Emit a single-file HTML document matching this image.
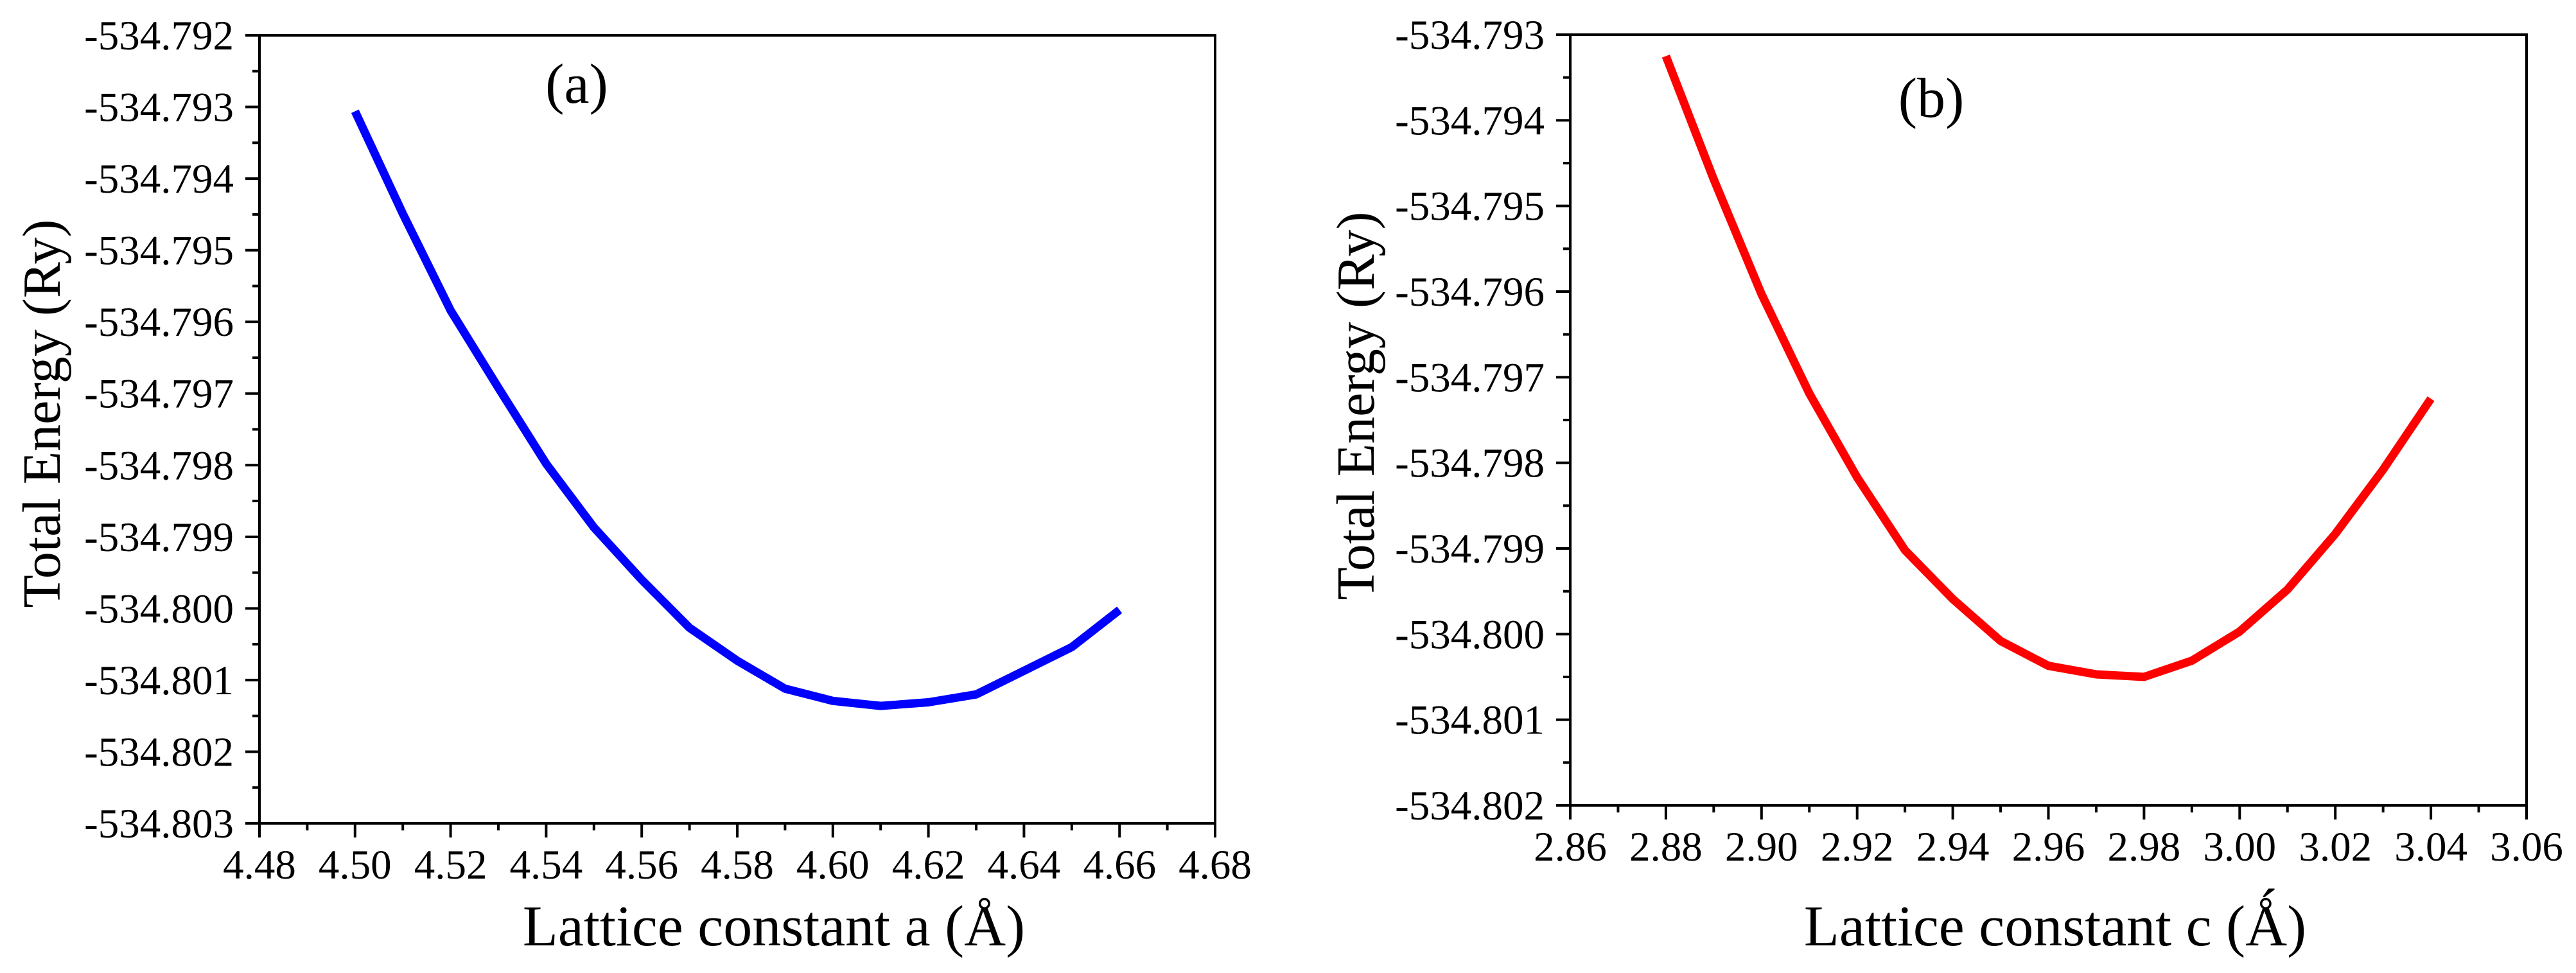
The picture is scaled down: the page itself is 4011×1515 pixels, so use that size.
<!DOCTYPE html>
<html><head><meta charset="utf-8"><style>
html,body{margin:0;padding:0;background:#fff;}
svg{display:block;}
text{font-family:"Liberation Serif",serif;fill:#000;}
</style></head>
<body>
<svg id="fig" width="4011" height="1515" viewBox="0 0 4011 1515" xmlns="http://www.w3.org/2000/svg"></svg>
<script>
// Panel (a) data
const aX = [4.50,4.51,4.52,4.53,4.54,4.55,4.56,4.57,4.58,4.59,4.60,4.61,4.62,4.63,4.64,4.65,4.66];
const aE = [-534.79306,-534.79449,-534.79584,-534.79692,-534.79798,-534.79887,-534.7996,-534.80027,-534.80073,-534.80112,-534.80129,-534.80136,-534.80131,-534.8012,-534.80087,-534.80054,-534.80002];
const aXTicks = [4.48,4.50,4.52,4.54,4.56,4.58,4.60,4.62,4.64,4.66,4.68];
const aYTicks = [-534.792,-534.793,-534.794,-534.795,-534.796,-534.797,-534.798,-534.799,-534.800,-534.801,-534.802,-534.803];
// Panel (b) data
const cX = [2.88,2.89,2.90,2.91,2.92,2.93,2.94,2.95,2.96,2.97,2.98,2.99,3.00,3.01,3.02,3.03,3.04];
const cE = [-534.79325,-534.79469,-534.79603,-534.79719,-534.79817,-534.79902,-534.79959,-534.80008,-534.80037,-534.80047,-534.8005,-534.80031,-534.79997,-534.79948,-534.79883,-534.79808,-534.79725];
const cXTicks = [2.86,2.88,2.90,2.92,2.94,2.96,2.98,3.00,3.02,3.04,3.06];
const cYTicks = [-534.793,-534.794,-534.795,-534.796,-534.797,-534.798,-534.799,-534.800,-534.801,-534.802];

const NS = "http://www.w3.org/2000/svg";
const svg = document.getElementById('fig');
function mk(tag, attrs, parent){
  const e = document.createElementNS(NS, tag);
  for (const k in attrs) e.setAttribute(k, attrs[k]);
  (parent||svg).appendChild(e);
  return e;
}

function panel(cfg){
  const g = mk('g', {});
  
  
  const L=cfg.L,R=cfg.R,T=cfg.T,B=cfg.B;
  const x0=cfg.xt[0], x1=cfg.xt[cfg.xt.length-1];
  const y0=cfg.yt[0], y1=cfg.yt[cfg.yt.length-1];
  const sx = v => L + (v-x0)/(x1-x0)*(R-L);
  const sy = v => T + (v-y0)/(y1-y0)*(B-T);
  const frame = mk('rect', {x:L,y:T,width:R-L,height:B-T,fill:'none',stroke:'#000','stroke-width':4}, g);
  
  
  for (let i=0;i<cfg.xt.length;i++){
    const v=cfg.xt[i], x=sx(v);
    const t = mk('line',{x1:x,y1:B,x2:x,y2:B+22,stroke:'#000','stroke-width':4},g);
    
    
    const lb = mk('text',{x:x,y:B+86,'font-size':65,'text-anchor':'middle'},g);
    lb.textContent = v.toFixed(2);
    
    
    if (i<cfg.xt.length-1){
      const xm = (x+sx(cfg.xt[i+1]))/2;
      const m = mk('line',{x1:xm,y1:B,x2:xm,y2:B+11,stroke:'#000','stroke-width':4},g);
      
      
    }
  }
  for (let i=0;i<cfg.yt.length;i++){
    const v=cfg.yt[i], y=sy(v);
    const t = mk('line',{x1:L-22,y1:y,x2:L,y2:y,stroke:'#000','stroke-width':4},g);
    
    
    const lb = mk('text',{x:L-40,y:y+22,'font-size':65,'text-anchor':'end'},g);
    lb.textContent = v.toFixed(3);
    
    
    if (i<cfg.yt.length-1){
      const ym=(y+sy(cfg.yt[i+1]))/2;
      const m = mk('line',{x1:L-11,y1:ym,x2:L,y2:ym,stroke:'#000','stroke-width':4},g);
      
      
    }
  }
  let d='';
  for (let i=0;i<cfg.xs.length;i++) d += (i?'L':'M') + sx(cfg.xs[i]).toFixed(1)+','+sy(cfg.ys[i]).toFixed(1);
  const p = mk('path',{d:d,fill:'none',stroke:cfg.color,'stroke-width':13,'stroke-linejoin':'round'},g);
  
  
  const yt = mk('text',{x:0,y:0,'font-size':84,'text-anchor':'middle',transform:`translate(${cfg.ytx},${cfg.yty}) rotate(-90)`},g);
  yt.textContent = 'Total Energy (Ry)';
  
  
  const xt = mk('text',{x:cfg.xtx,y:1472,'font-size':90,'text-anchor':'middle'},g);
  xt.textContent = cfg.xtitle;
  
  
  const pl = mk('text',{x:cfg.plx,y:cfg.ply,'font-size':88,'text-anchor':'middle'},g);
  pl.textContent = cfg.plabel;
  
  
}

panel({name:'panel-a',L:404,R:1892,T:55,B:1282,xt:aXTicks,yt:aYTicks,xs:aX,ys:aE,color:'#0000ff',curveName:'energy-curve-a',
  ytx:93,yty:644,xtx:1205,xtitle:'Lattice constant a (Å)',plabel:'(a)',plx:898,ply:160});
panel({name:'panel-b',L:2445,R:3934,T:54,B:1254,xt:cXTicks,yt:cYTicks,xs:cX,ys:cE,color:'#ff0000',curveName:'energy-curve-c',
  ytx:2139,yty:632,xtx:3200,xtitle:'Lattice constant c (Ǻ)',plabel:'(b)',plx:3007,ply:182});
</script>
</body></html>
